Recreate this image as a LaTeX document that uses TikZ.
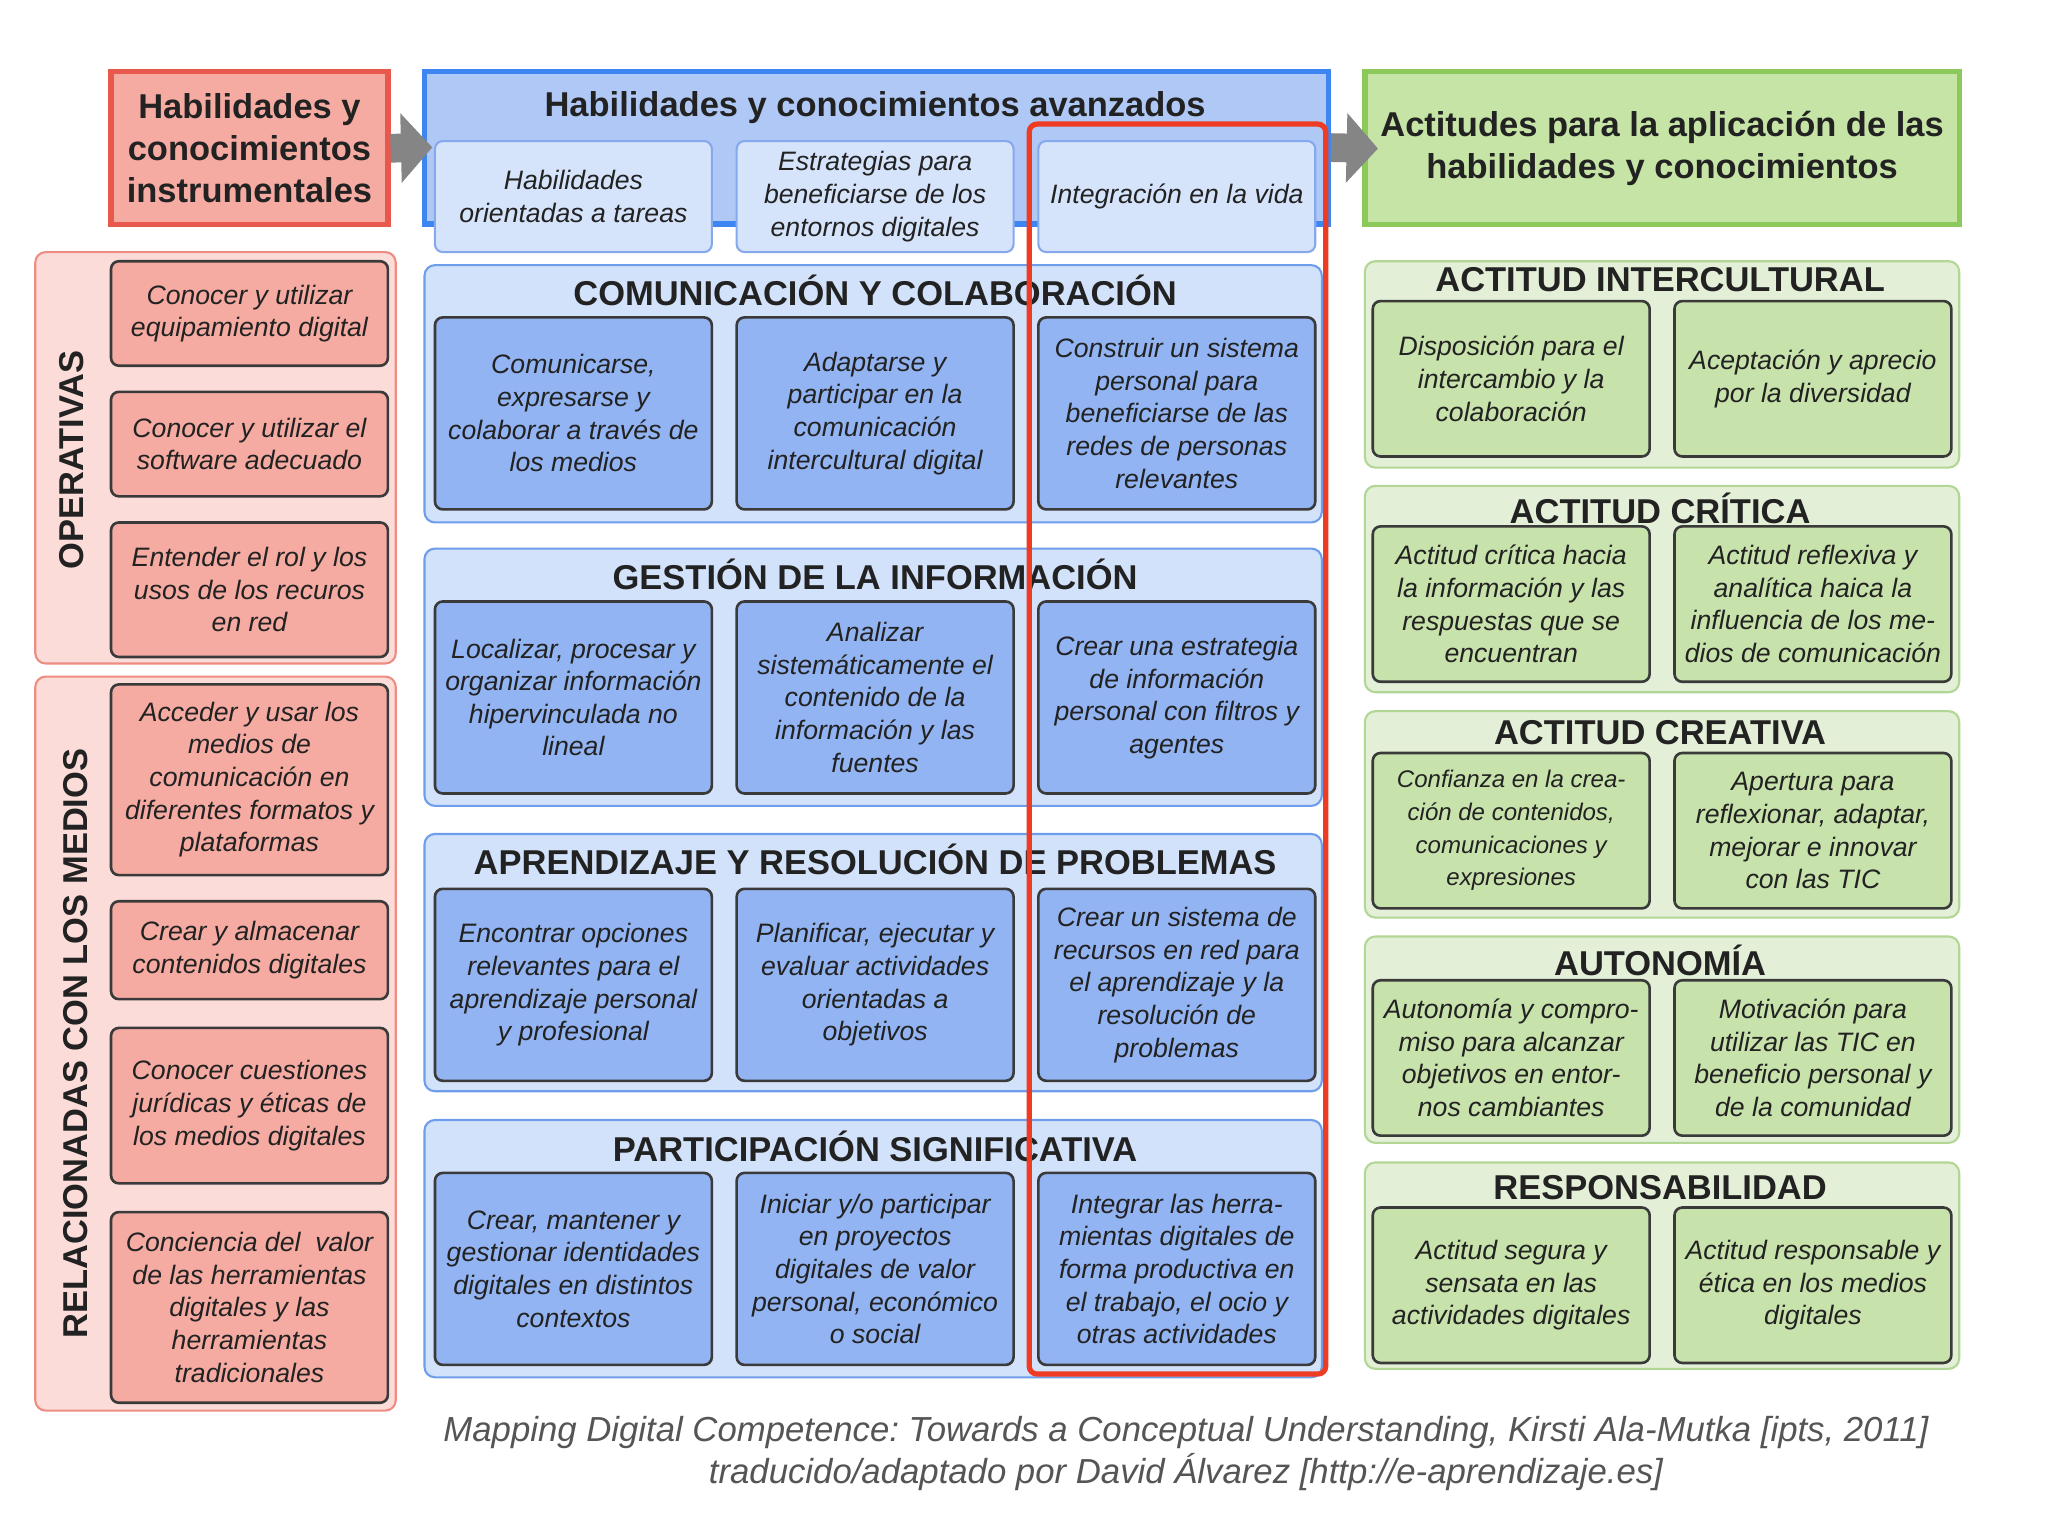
\documentclass[tikz,border=0pt]{standalone}
\usepackage{fontspec}
\setmainfont{Liberation Sans}
\usetikzlibrary{arrows.meta,positioning,backgrounds}
\frenchspacing
\definecolor{instrred}{HTML}{E8584C}
\definecolor{instrfill}{HTML}{F5ABA2}
\definecolor{pinkgroup}{HTML}{FBDCD8}
\definecolor{pinkborder}{HTML}{EE8C82}
\definecolor{avzblue}{HTML}{3D85F0}
\definecolor{avzfill}{HTML}{AFC8F5}
\definecolor{subfill}{HTML}{D6E4FB}
\definecolor{subborder}{HTML}{86A9EE}
\definecolor{bluegroupfill}{HTML}{D3E2FB}
\definecolor{bluegroupborder}{HTML}{6E9DEB}
\definecolor{bluecardfill}{HTML}{93B4F2}
\definecolor{actgreen}{HTML}{8CC95B}
\definecolor{actfill}{HTML}{C6E4A6}
\definecolor{greengroupfill}{HTML}{E3EFD7}
\definecolor{greengroupborder}{HTML}{B2D794}
\definecolor{greencardfill}{HTML}{C8E2AC}
\definecolor{cardedge}{HTML}{3A3A3A}
\definecolor{inktext}{HTML}{222222}
\definecolor{focusred}{HTML}{EE3B24}
\definecolor{arrowgray}{HTML}{858585}
\definecolor{captiongray}{HTML}{555555}

\begin{document}
\begin{tikzpicture}[
  x=0.5pt, y=-0.5pt,
  text=inktext,
  headbox/.style={
    line width=2pt,
    minimum height=58.5pt,
    align=center,
    inner sep=2pt,
    font=\bfseries\fontsize{13.2}{16}\selectfont
  },
  instrbox/.style={headbox, draw=instrred, fill=instrfill, minimum width=106pt},
  avzbox/.style={headbox, draw=avzblue, fill=avzfill, minimum width=346pt},
  actbox/.style={headbox, draw=actgreen, fill=actfill, minimum width=227.5pt},
  subbox/.style={
    draw=subborder, fill=subfill, line width=0.8pt,
    rounded corners=3pt,
    minimum width=106pt, minimum height=42.5pt,
    align=center, inner sep=1pt,
    font=\itshape\fontsize{10.2}{12.5}\selectfont
  },
  group/.style={
    line width=0.8pt,
    rounded corners=4pt
  },
  redgroup/.style={group, draw=pinkborder, fill=pinkgroup, minimum width=138pt},
  bluegroup/.style={group, draw=bluegroupborder, fill=bluegroupfill, minimum width=343.5pt, minimum height=98.5pt},
  greengroup/.style={group, draw=greengroupborder, fill=greengroupfill, minimum width=227.5pt, minimum height=79pt},
  card/.style={
    draw=cardedge, line width=1pt,
    rounded corners=3pt,
    minimum width=106pt,
    align=center, inner sep=1pt,
    font=\itshape\fontsize{10.2}{12.5}\selectfont
  },
  redcard/.style={card, fill=instrfill},
  bluecard/.style={card, fill=bluecardfill, minimum height=73.5pt},
  greencard/.style={card, fill=greencardfill, minimum height=59.5pt},
  grouptitle/.style={font=\bfseries\fontsize{13.2}{15}\selectfont, inner sep=0pt},
  sidelabel/.style={rotate=90, font=\bfseries\fontsize{13.2}{15}\selectfont, inner sep=0pt},
  bigarrow/.style={
    draw=arrowgray, line width=11pt,
    -{Triangle[length=12pt, width=26pt]}
  },
  focusframe/.style={draw=focusred, line width=2pt, rounded corners=3pt},
  caption/.style={font=\itshape\fontsize{13.3}{16}\selectfont, text=captiongray, align=center}
]
\useasboundingbox[fill=white] (0,0) rectangle (1568,1176);

% --- Top headers ---
\node[instrbox] (instr) at (191,113.5) {Habilidades y\\conocimientos\\instrumentales};
\node[avzbox] (avz) at (671,113) {};
\node[grouptitle] (avzt) at (670,82) {Habilidades y conocimientos avanzados};
\node[actbox] (act) at (1272.5,113.5) {Actitudes para la aplicación de las\\habilidades y conocimientos};

% Big grey arrows
\draw[bigarrow, shorten >=-4pt] (instr.east) -- (avz.west);

\node[subbox] (tareas) at (439,150.5) {Habilidades\\orientadas a tareas};
\node[subbox] (entornos) at (670,150.5) {Estrategias para\\beneficiarse de los\\entornos digitales};
\node[subbox] (vida) at (901,150.5) {Integración en la vida};

% --- Left column: instrumental skills ---
\node[redgroup, minimum height=157.5pt] (ops) at (165,350.5) {};
\node[sidelabel] (opst) at (55,352) {OPERATIVAS};
\node[redcard, minimum height=40pt] (ops1) at (191,240) {Conocer y utilizar\\equipamiento digital};
\node[redcard, minimum height=40pt] (ops2) at (191,340) {Conocer y utilizar el\\software adecuado};
\node[redcard, minimum height=51.5pt] (ops3) at (191,451.5) {Entender el rol y los\\usos de los recuros\\en red};

\node[redgroup, minimum height=281pt] (rel) at (165,799) {};
\node[sidelabel] (relt) at (58,799) {RELACIONADAS CON LOS MEDIOS};
\node[redcard, minimum height=73pt] (rel1) at (191,597) {Acceder y usar los\\medios de\\comunicación en\\diferentes formatos y\\plataformas};
\node[redcard, minimum height=37.5pt] (rel2) at (191,727.5) {Crear y almacenar\\contenidos digitales};
\node[redcard, minimum height=59.5pt] (rel3) at (191,846.5) {Conocer cuestiones\\jurídicas y éticas de\\los medios digitales};
\node[redcard, minimum height=73pt] (rel4) at (191,1001) {Conciencia del~ valor\\de las herramientas\\digitales y las\\herramientas\\tradicionales};

% --- Middle column: advanced skills ---
\node[bluegroup] (com) at (668.5,301.5) {};
\node[grouptitle] (comt) at (670,222) {COMUNICACIÓN Y COLABORACIÓN};
\node[bluecard] (com1) at (439,316.5) {Comunicarse,\\expresarse y\\colaborar a través de\\los medios};
\node[bluecard] (com2) at (670,316.5) {Adaptarse y\\participar en la\\comunicación\\intercultural digital};
\node[bluecard] (com3) at (901,316.5) {Construir un sistema\\personal para\\beneficiarse de las\\redes de personas\\relevantes};

\node[bluegroup] (info) at (668.5,518.5) {};
\node[grouptitle] (infot) at (670,440) {GESTIÓN DE LA INFORMACIÓN};
\node[bluecard] (info1) at (439,534) {Localizar, procesar y\\organizar información\\hipervinculada no\\lineal};
\node[bluecard] (info2) at (670,534) {Analizar\\sistemáticamente el\\contenido de la\\información y las\\fuentes};
\node[bluecard] (info3) at (901,534) {Crear una estrategia\\de información\\personal con filtros y\\agentes};

\node[bluegroup] (apr) at (668.5,737) {};
\node[grouptitle] (aprt) at (670,658) {APRENDIZAJE Y RESOLUCIÓN DE PROBLEMAS};
\node[bluecard] (apr1) at (439,754) {Encontrar opciones\\relevantes para el\\aprendizaje personal\\y profesional};
\node[bluecard] (apr2) at (670,754) {Planificar, ejecutar y\\evaluar actividades\\orientadas a\\objetivos};
\node[bluecard] (apr3) at (901,754) {Crear un sistema de\\recursos en red para\\el aprendizaje y la\\resolución de\\problemas};

\node[bluegroup] (par) at (668.5,956) {};
\node[grouptitle] (part) at (670,878) {PARTICIPACIÓN SIGNIFICATIVA};
\node[bluecard] (par1) at (439,971.5) {Crear, mantener y\\gestionar identidades\\digitales en distintos\\contextos};
\node[bluecard] (par2) at (670,971.5) {Iniciar y/o participar\\en proyectos\\digitales de valor\\personal, económico\\o social};
\node[bluecard] (par3) at (901,971.5) {Integrar las herra-\\mientas digitales de\\forma productiva en\\el trabajo, el ocio y\\otras actividades};

% Highlighted column
\draw[focusframe] (788,95) rectangle (1015,1052);

\draw[bigarrow, shorten >=-6pt] (avz.east) -- (act.west);

% --- Right column: attitudes ---
\node[greengroup] (icu) at (1272.5,279) {};
\node[grouptitle] (icut) at (1271,214) {ACTITUD INTERCULTURAL};
\node[greencard] (icu1) at (1157,290) {Disposición para el\\intercambio y la\\colaboración};
\node[greencard] (icu2) at (1388,290) {Aceptación y aprecio\\por la diversidad};

\node[greengroup] (cri) at (1272.5,451) {};
\node[grouptitle] (crit) at (1271,389) {ACTITUD CRÍTICA};
\node[greencard] (cri1) at (1157,462.5) {Actitud crítica hacia\\la información y las\\respuestas que se\\encuentran};
\node[greencard] (cri2) at (1388,462.5) {Actitud reflexiva y\\analítica haica la\\influencia de los me-\\dios de comunicación};

\node[greengroup] (cre) at (1272.5,623.5) {};
\node[grouptitle] (cret) at (1271,561) {ACTITUD CREATIVA};
\node[greencard, font=\itshape\fontsize{9.2}{12.5}\selectfont] (cre1) at (1157,636) {Confianza en la crea-\\ción de contenidos,\\comunicaciones y\\expresiones};
\node[greencard] (cre2) at (1388,636) {Apertura para\\reflexionar, adaptar,\\mejorar e innovar\\con las TIC};

\node[greengroup] (aut) at (1272.5,796) {};
\node[grouptitle] (autt) at (1271,735) {AUTONOMÍA};
\node[greencard] (aut1) at (1157,810) {Autonomía y compro-\\miso para alcanzar\\objetivos en entor-\\nos cambiantes};
\node[greencard] (aut2) at (1388,810) {Motivación para\\utilizar las TIC en\\beneficio personal y\\de la comunidad};

\node[greengroup] (res) at (1272.5,969) {};
\node[grouptitle] (rest) at (1271,909) {RESPONSABILIDAD};
\node[greencard] (res1) at (1157,984) {Actitud segura y\\sensata en las\\actividades digitales};
\node[greencard] (res2) at (1388,984) {Actitud responsable y\\ética en los medios\\digitales};

% Source
\node[caption] (src) at (908,1113) {Mapping Digital Competence: Towards a Conceptual Understanding, Kirsti Ala-Mutka [ipts, 2011]\\traducido/adaptado por David Álvarez [http://e-aprendizaje.es]};

\end{tikzpicture}
\end{document}
